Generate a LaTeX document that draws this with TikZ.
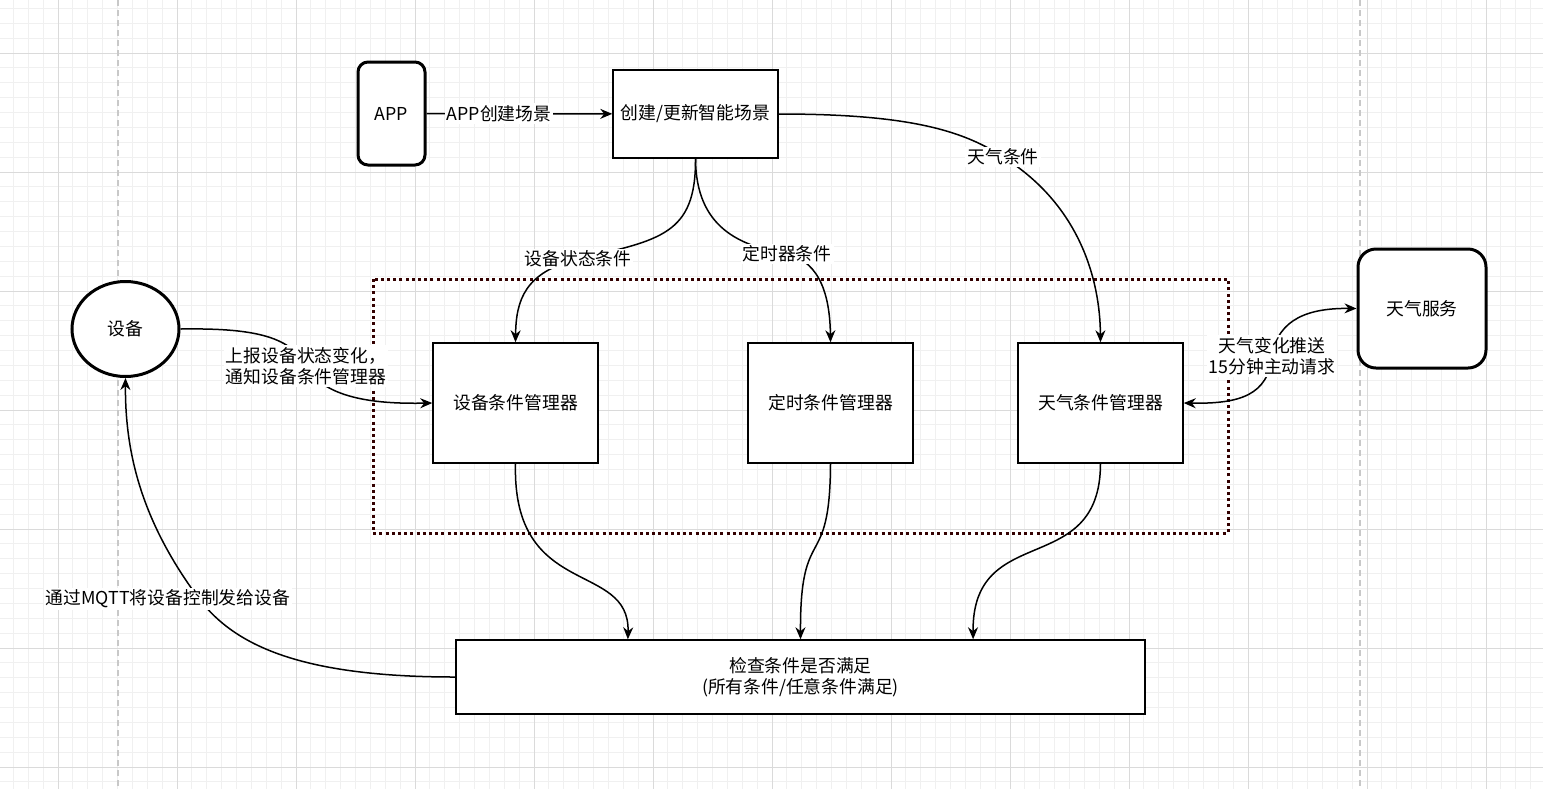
\documentclass[tikz,border=0pt]{standalone}
\usepackage{fontspec}
\setmainfont{Noto Sans CJK SC}
\usepackage{tikz}
\usetikzlibrary{shapes.geometric,arrows.meta,calc}
\definecolor{gridminor}{RGB}{240,240,240}
\definecolor{gridmajor}{RGB}{218,218,218}
\definecolor{lane}{RGB}{200,200,200}
\definecolor{ruby}{RGB}{51,0,0}

\begin{document}
\begin{tikzpicture}[x=0.5pt,y=-0.5pt,>={Stealth[length=6pt,width=5pt]},
  every node/.style={font=\fontsize{8.9}{10.5}\selectfont},
  box/.style={draw,line width=0.75pt,fill=white,inner sep=0pt},
  term/.style={draw,line width=1.5pt,fill=white,rounded corners=#1,inner sep=0pt},
  lbl/.style={fill=white,inner sep=1pt},
  wire/.style={line width=0.75pt}]
  \useasboundingbox (0,0) rectangle (1543,789);
  % grid
  \foreach \i in {0,...,104}
    \draw[gridminor,line width=0.5pt] ({-1.5+\i*14.875},0) -- ({-1.5+\i*14.875},789);
  \foreach \i in {0,...,53}
    \draw[gridminor,line width=0.5pt] (0,{-6.5+\i*14.875}) -- (1543,{-6.5+\i*14.875});
  \foreach \k in {0,...,12}
    \draw[gridmajor,line width=0.5pt] ({58+\k*119},0) -- ({58+\k*119},789);
  \foreach \k in {0,...,6}
    \draw[gridmajor,line width=0.5pt] (0,{53+\k*119}) -- (1543,{53+\k*119});
  \draw[lane,line width=0.75pt,dash pattern=on 3pt off 2pt] (118,0) -- (118,789);
  \draw[lane,line width=0.75pt,dash pattern=on 3pt off 2pt] (1360,0) -- (1360,789);

  % manager group
  \draw[ruby,line width=1.5pt,dash pattern=on 1.5pt off 1.6pt] (373,279) rectangle (1228,533);

  \node[term=5pt,minimum width=33.5pt,minimum height=51.5pt] (app) at (391.5,113.5) {APP};
  \node[box,minimum width=82.5pt,minimum height=44pt] (scene) at (695.5,114) {创建/更新智能场景};
  \node[term=9pt,minimum width=64pt,minimum height=59.5pt] (wsvc) at (1422,308.5) {天气服务};
  \node[draw,ellipse,line width=1.5pt,fill=white,inner sep=0pt,minimum width=53.5pt,minimum height=47.5pt] (dev) at (125.5,329) {设备};
  \node[box,minimum width=82.5pt,minimum height=60pt] (devmgr) at (515.5,403) {设备条件管理器};
  \node[box,minimum width=82.5pt,minimum height=60pt] (timemgr) at (830.5,403) {定时条件管理器};
  \node[box,minimum width=82.5pt,minimum height=60pt] (wmgr) at (1100.5,403) {天气条件管理器};
  \node[box,minimum width=344.5pt,minimum height=37pt,align=center] (check) at (800.5,677) {检查条件是否满足\\(所有条件/任意条件满足)};

  \coordinate (in1) at ($(check.north west)!0.25!(check.north east)$);
  \coordinate (in3) at ($(check.north west)!0.75!(check.north east)$);

  \draw[wire,->] (app) -- node[lbl,pos=0.39] {APP创建场景} (scene);
  \draw[wire,->] (scene.south) .. controls (696,235) and (660,240) .. (578,259) node[lbl] {设备状态条件}
    .. controls (525,272) and (516,300) .. (devmgr.north);
  \draw[wire,->] (scene.south) .. controls (696,228) and (740,246) .. (787,254) node[lbl] {定时器条件}
    .. controls (822,262) and (830,300) .. (timemgr.north);
  \draw[wire,->] (scene.east) .. controls (900,114) and (960,128) .. (1003,157) node[lbl] {天气条件}
    .. controls (1080,205) and (1100,280) .. (wmgr.north);
  \draw[wire,->] (dev.east) .. controls (250,328) and (290,335) .. (306,366) node[lbl,align=left] {上报设备状态变化，\\通知设备条件管理器}
    .. controls (325,400) and (380,404) .. (devmgr.west);
  \draw[wire,<->] (wmgr.east) .. controls (1240,404) and (1268,395) .. (1272,356) node[lbl,align=center] {天气变化推送\\15分钟主动请求}
    .. controls (1278,318) and (1310,308) .. (wsvc.west);
  \draw[wire,->] (devmgr.south) .. controls (512,600) and (630,560) .. (in1);
  \draw[wire,->] (timemgr.south) .. controls (830,575) and (800,520) .. (check.north);
  \draw[wire,->] (wmgr.south) .. controls (1100,580) and (972,520) .. (in3);
  \draw[wire,->] (check.west) .. controls (300,677) and (235,645) .. (200,600)
    .. controls (140,520) and (125,450) .. (dev.south)
    node[lbl] at (168,599) {通过MQTT将设备控制发给设备};
\end{tikzpicture}
\end{document}
